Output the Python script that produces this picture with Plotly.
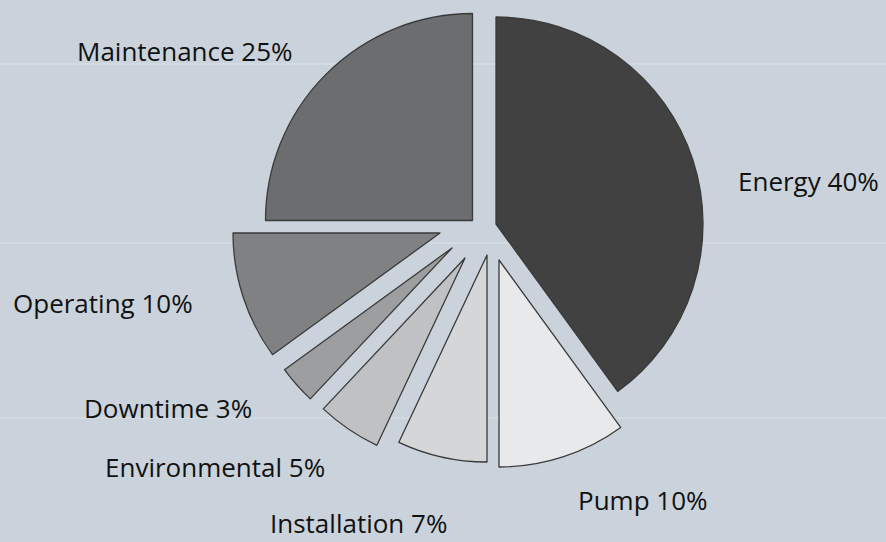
import plotly.graph_objects as go

# ---- data ----
labels = ["Energy", "Pump", "Installation", "Environmental", "Downtime", "Operating", "Maintenance"]
values = [40, 10, 7, 5, 3, 10, 25]

# ---- style ----
colors = ["#414141", "#e8e9eb", "#d4d6d8", "#bfc1c3", "#9c9ea0", "#7f8183", "#6b6d6f"]
edge_color = "#3a3a3a"
bg = "#cad3dc"

W, H = 886, 542
R = 207           # pie radius in px
CX, CY = 481, 229 # nominal pie centre in px
# exploded offsets of each slice (px)
off_x = [15, 18, 6, -16, -29, -41, -8.5]
off_y = [-5, 31, 26, 29, 19, 4, -8.5]

# label placement (left edge x, middle y) in px
lab_x = [736, 576, 268, 103, 82, 11, 75]
lab_y = [181, 500, 523, 467, 408, 303, 51]

# faint concrete-slab seams of the backdrop (y in px)
seam_y = [64, 243, 418]

n = len(labels)
fig = go.Figure()
for i in range(n):
    cx = CX + off_x[i]
    cy = CY + off_y[i]
    fig.add_trace(go.Pie(
        labels=labels, values=values, sort=False, direction="clockwise", rotation=0,
        marker=dict(
            colors=[colors[j] if j == i else "rgba(0,0,0,0)" for j in range(n)],
            line=dict(color=[edge_color if j == i else "rgba(0,0,0,0)" for j in range(n)], width=1.3),
        ),
        textinfo="none", hoverinfo="skip", showlegend=False,
        domain=dict(x=[(cx - R) / W, (cx + R) / W], y=[1 - (cy + R) / H, 1 - (cy - R) / H]),
    ))

for i in range(n):
    fig.add_annotation(
        x=lab_x[i] / W, y=1 - lab_y[i] / H, xref="paper", yref="paper",
        xanchor="left", yanchor="middle", showarrow=False,
        text=f"{labels[i]} {values[i]}%",
        font=dict(family="Open Sans", size=26, color="#111111"),
    )

for sy in seam_y:
    fig.add_shape(type="line", xref="paper", yref="paper", x0=0, x1=1,
                  y0=1 - sy / H, y1=1 - sy / H, layer="below",
                  line=dict(color="rgba(225,232,238,0.35)", width=2))

fig.update_layout(
    width=W, height=H, margin=dict(l=0, r=0, t=0, b=0),
    paper_bgcolor=bg, plot_bgcolor=bg, showlegend=False,
)
fig.write_html(
    "out.html",
    config={"displayModeBar": False},
    post_script="document.body.style.margin='0';document.body.style.overflow='hidden';",
)
